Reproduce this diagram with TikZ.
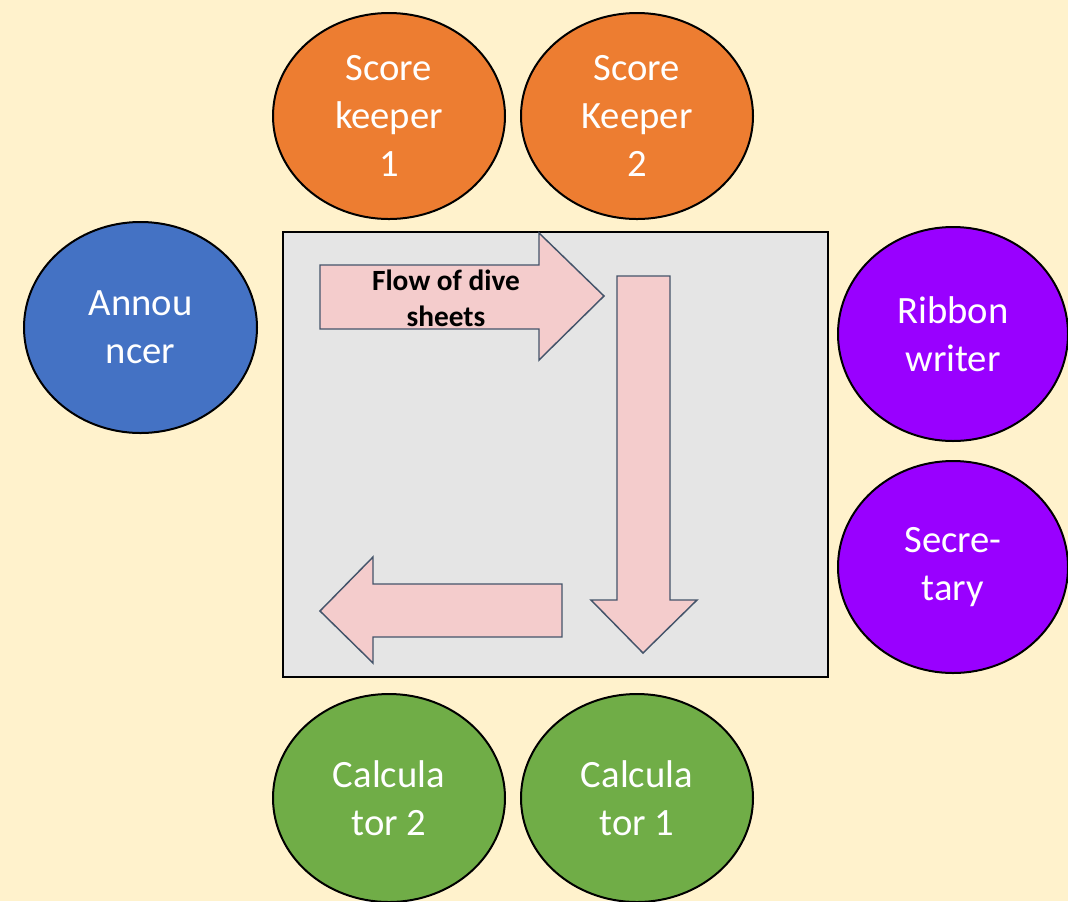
\documentclass[tikz,border=0pt]{standalone}
\usepackage{fontspec}
\setmainfont{Carlito}
\usetikzlibrary{shapes.geometric}
\definecolor{bgyel}{HTML}{FFF2CC}
\definecolor{orng}{HTML}{ED7D31}
\definecolor{blu}{HTML}{4472C4}
\definecolor{purp}{HTML}{9900FF}
\definecolor{grn}{HTML}{70AD47}
\definecolor{tbl}{HTML}{E5E5E5}
\definecolor{arrfill}{HTML}{F4CCCC}
\definecolor{arrline}{HTML}{44546A}
\tikzset{
  role/.style={ellipse, draw=black, line width=1.5pt, inner sep=0pt, text=white,
    align=center, font=\fontsize{29}{36}\selectfont},
  flowarrow/.style={fill=arrfill, draw=arrline, line width=1.1pt, line join=miter},
}
\begin{document}
\begin{tikzpicture}[x=0.75pt,y=-0.75pt]
\fill[bgyel] (0,0) rectangle (1068,901);
\useasboundingbox (0,0) rectangle (1068,901);
% table
\node[draw=black, fill=tbl, line width=1.8pt, minimum width=409pt, minimum height=333.75pt, inner sep=0pt] (table) at (555.5,454.5) {};
% arrows
\draw[flowarrow] (320,265) -- (539,265) -- (539,233) -- (604,296) -- (539,360) -- (539,329) -- (320,329) -- cycle;
\draw[flowarrow] (617,276) -- (670,276) -- (670,600) -- (697,600) -- (643,653) -- (591,600) -- (617,600) -- cycle;
\draw[flowarrow] (562,584) -- (373,584) -- (373,557) -- (320,611) -- (373,663) -- (373,637) -- (562,637) -- cycle;
\node[font=\fontsize{22}{27}\selectfont\bfseries, align=center, inner sep=0pt] (flow) at (446,298) {Flow of dive\\sheets};
% roles
\node[role, fill=orng, minimum width=174pt, minimum height=154.5pt] (sk1) at (389,116) {Score\\keeper\\1};
\node[role, fill=orng, minimum width=174pt, minimum height=154.5pt] (sk2) at (637,116) {Score\\Keeper\\2};
\node[role, fill=blu, minimum width=174.75pt, minimum height=158.25pt] (ann) at (140.5,327.5) {Annou\\ncer};
\node[role, fill=purp, minimum width=172.5pt, minimum height=160.5pt] (rib) at (953,334) {Ribbon\\writer};
\node[role, fill=purp, minimum width=172.5pt, minimum height=159pt] (sec) at (953,567) {Secre-\\tary};
\node[role, fill=grn, minimum width=174pt, minimum height=156pt] (c2) at (389,798) {Calcula\\tor 2};
\node[role, fill=grn, minimum width=174pt, minimum height=156pt] (c1) at (637,798) {Calcula\\tor 1};
\end{tikzpicture}
\end{document}
